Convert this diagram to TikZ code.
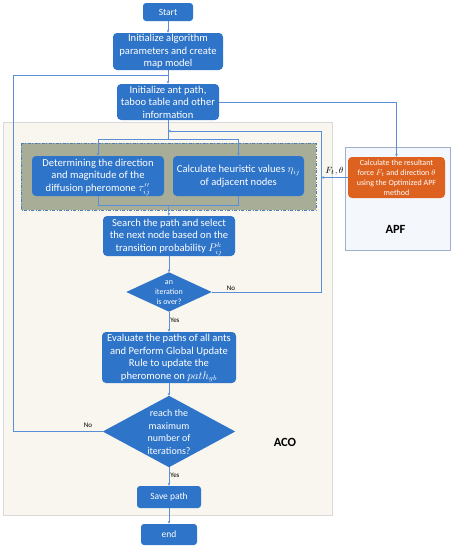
\documentclass[tikz,border=0pt]{standalone}
\usepackage{fontspec}
\setmainfont{Carlito}
\usetikzlibrary{arrows.meta}
\definecolor{boxblue}{HTML}{2E74C8}
\definecolor{linec}{HTML}{5A8ED8}
\definecolor{acobg}{HTML}{F8F6EE}
\definecolor{acoborder}{HTML}{D9D9D9}
\definecolor{grpfill}{HTML}{A8AD97}
\definecolor{grpborder}{HTML}{4A7EBB}
\definecolor{orangebox}{HTML}{DD6220}
\definecolor{apffill}{HTML}{F4F7FC}
\definecolor{apfborder}{HTML}{9FB0CC}
\begin{document}
\begin{tikzpicture}[x=1pt,y=-1pt,
  proc/.style={rectangle, rounded corners=4pt, fill=boxblue, text=white, align=center, inner sep=1pt, font=\fontsize{10.6}{12.5}\selectfont},
  small/.style={rectangle, rounded corners=3pt, fill=boxblue, text=white, align=center, inner sep=1pt, font=\fontsize{9.5}{11}\selectfont},
  dtext/.style={text=white, align=center, inner sep=0pt},
  conn/.style={draw=linec, line width=0.7pt},
  arr/.style={conn, -{Stealth[length=3pt,width=2.5pt]}},
  lbl/.style={font=\fontsize{7}{8}\selectfont, text=black, inner sep=1pt},
  big/.style={font=\bfseries\fontsize{12.5}{14}\selectfont, text=black}
]
\useasboundingbox (0,0) rectangle (452,550);
% backgrounds
\fill[acobg, draw=acoborder, line width=0.6pt] (3,122) rectangle (332,515);
\fill[apffill, draw=apfborder, line width=0.6pt] (345,147) rectangle (450,250);
\filldraw[fill=grpfill, draw=grpborder, line width=0.8pt, dash pattern=on 3pt off 1.5pt on 1pt off 1.5pt] (21,143) rectangle (316,210);

% nodes
\node[small, minimum width=50, minimum height=18] (start) at (168,12) {Start};
\node[proc, minimum width=110, minimum height=37] (init1) at (168,51.5) {Initialize algorithm\\parameters and create\\map model};
\node[proc, minimum width=102, minimum height=36] (init2) at (168,102) {Initialize ant path,\\taboo table and other\\information};
\node[proc, minimum width=132, minimum height=40] (boxA) at (98,176) {Determining the direction\\and magnitude of the\\diffusion pheromone $\smash{\tau''_{ij}}$};
\node[proc, minimum width=131, minimum height=40] (boxB) at (238.5,176) {Calculate heuristic values $\smash{\eta_{ij}}$\\of adjacent nodes};
\node[proc, minimum width=132, minimum height=40] (search) at (169,236) {Search the path and select\\the next node based on the\\transition probability $\smash{P^{k}_{ij}}$};
\node[minimum width=85, minimum height=39, inner sep=0pt] (d1) at (169,292) {};
\fill[boxblue] (d1.north) -- (d1.east) -- (d1.south) -- (d1.west) -- cycle;
\node[dtext, font=\fontsize{8}{10}\selectfont] (d1t) at (169,293) {an\\iteration\\is over?};
\node[proc, minimum width=134, minimum height=51] (eval) at (169,357.5) {Evaluate the paths of all ants\\and Perform Global Update\\Rule to update the\\pheromone on $\smash{path_{gb}}$};
\node[minimum width=132, minimum height=71, inner sep=0pt] (d2) at (169,431.5) {};
\fill[boxblue] (d2.north) -- (d2.east) -- (d2.south) -- (d2.west) -- cycle;
\node[dtext, font=\fontsize{10}{12.5}\selectfont] (d2t) at (169,432) {reach the\\maximum\\number of\\iterations?};
\node[small, minimum width=64, minimum height=22] (save) at (169,497) {Save path};
\node[small, minimum width=56, minimum height=21] (end) at (169,534.5) {end};
\node[rectangle, rounded corners=4pt, fill=orangebox, text=white, align=center, inner sep=1pt, font=\fontsize{8}{10}\selectfont, minimum width=97, minimum height=41] (apfbox) at (396.5,177.5) {Calculate the resultant\\force $F_t$ and direction $\theta$\\using the Optimized APF\\method};
\node[big] (aco) at (285,442.5) {ACO};
\node[big] (apf) at (395.5,229) {APF};

% coordinates
\coordinate (lp) at (13,75);
\coordinate (j0) at (168,75);
\coordinate (j1) at (168,131);
\coordinate (br) at (168,139);
\coordinate (bb) at (168,205);
\coordinate (rx) at (321,131);

% connectors
\draw[arr] (start) -- (init1);
\draw[arr] (init1) -- (init2);
\draw[conn] (d2.west) -- (d2.west -| lp) -- (lp) -- (j0);
\draw[arr] (init2.east) -| (apfbox.north);
\draw[conn] (init2.south) -- (br);
\draw[arr] (boxA.north |- br) -- (boxA.north);
\draw[arr] (boxB.north |- br) -- (boxB.north);
\draw[conn] (boxA.north |- br) -- (boxB.north |- br);
\draw[conn] (boxA.south) -- (boxA.south |- bb) -- (boxB.south |- bb) -- (boxB.south);
\draw[arr] (bb) -- (search.north);
\draw[arr] (d1.east) -- (d1.east -| rx) -- (rx) -- (j1);
\draw[arr] (apfbox.west) -- (apfbox.west -| rx) node[pos=0.5, above, font=\fontsize{9.5}{10}\selectfont, text=black, inner sep=2pt] (ft) {$F_t,\theta$};
\draw[arr] (search.south) -- (d1.north);
\draw[arr] (d1.south) -- node[lbl, right, pos=0.45] (yes1) {Yes} (eval.north);
\draw[arr] (eval.south) -- (d2.north);
\draw[arr] (d2.south) -- node[lbl, right, pos=0.45] (yes2) {Yes} (save.north);
\draw[arr] (save.south) -- (end.north);
\node[lbl] (no1) at (231,288) {No};
\node[lbl] (no2) at (88,425) {No};
\end{tikzpicture}
\end{document}
